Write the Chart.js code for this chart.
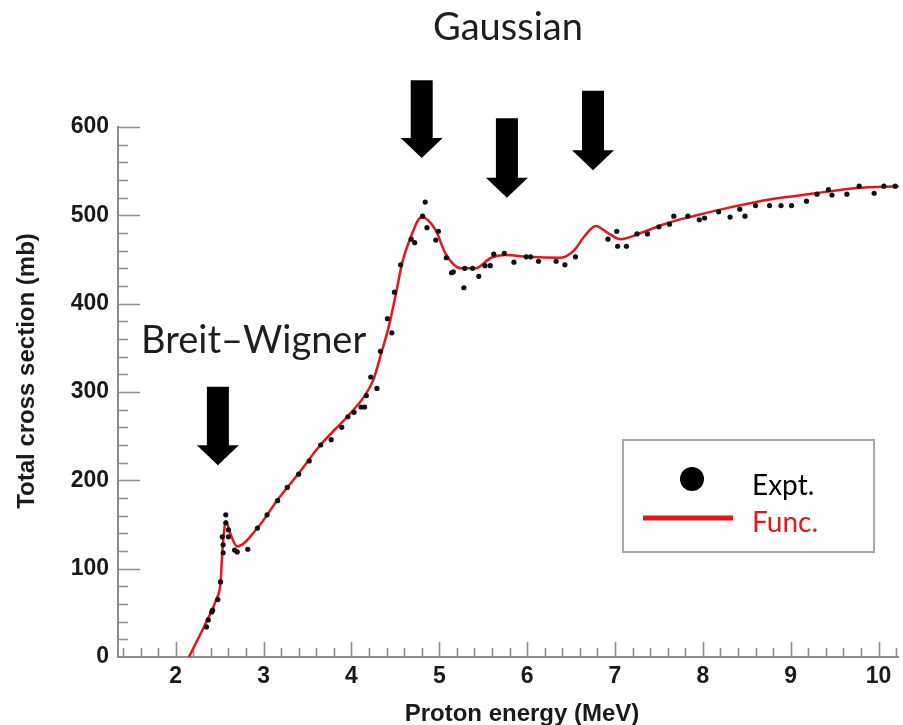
<!DOCTYPE html>
<html>
<head>
<meta charset="utf-8">
<script src="https://cdn.jsdelivr.net/npm/chart.js@4"></script>
<style>
  html, body { margin: 0; padding: 0; background: #fff; }
  #wrap { width: 903px; height: 725px; position: relative; }
</style>
</head>
<body>
<div id="wrap"><canvas id="chart"></canvas></div>
<script>
// measured cross section (proton energy in MeV, sigma in mb)
const exptEnergy = [
  2.35, 2.37, 2.41, 2.42, 2.48, 2.51, 2.53, 2.54, 2.54, 2.57, 2.57, 2.60, 2.60, 2.67, 2.70,
  2.82, 2.93, 3.04, 3.16, 3.27, 3.40, 3.52, 3.65, 3.77, 3.89, 3.96, 4.03, 4.11, 4.15, 4.17,
  4.22, 4.29, 4.33, 4.41, 4.46, 4.49, 4.56, 4.68, 4.72, 4.81, 4.84, 4.86, 4.96, 4.99, 5.08,
  5.14, 5.16, 5.28, 5.29, 5.38, 5.45, 5.52, 5.58, 5.62, 5.74, 5.85, 5.99, 6.04, 6.13, 6.33,
  6.43, 6.55, 6.92, 7.02, 7.03, 7.13, 7.25, 7.37, 7.50, 7.62, 7.67, 7.83, 7.96, 8.02, 8.18,
  8.31, 8.42, 8.48, 8.60, 8.76, 8.89, 9.01, 9.18, 9.30, 9.43, 9.47, 9.64, 9.78, 9.95, 10.06,
  10.19
];
const exptSigma = [
  34, 42, 51, 53, 65, 85, 136, 118, 127, 152, 161, 144, 136, 121, 119,
  122, 146, 161, 177, 192, 207, 222, 240, 246, 260, 272, 277, 283, 283, 296,
  317, 304, 346, 383, 367, 413, 444, 473, 469, 499, 515, 486, 472, 482, 452,
  435, 436, 418, 440, 440, 431, 443, 443, 456, 457, 447, 453, 453, 448, 448,
  444, 453, 473, 482, 465, 465, 479, 479, 487, 490, 499, 499, 495, 497, 504,
  498, 507, 499, 511, 511, 511, 511, 516, 524, 529, 523, 524, 533, 525, 533,
  533
];

// fitted function: Breit-Wigner + Gaussian terms
const funcEnergy = [
  2.15, 2.33, 2.46, 2.51, 2.53, 2.555, 2.57, 2.62, 2.70, 2.93, 3.16, 3.40, 3.63, 3.97, 4.16,
  4.25, 4.34, 4.43, 4.51, 4.58, 4.67, 4.80, 4.96, 5.07, 5.25, 5.41, 5.59, 5.75, 6.01, 6.38,
  6.54, 6.65, 6.78, 6.92, 7.06, 7.29, 7.59, 7.93, 8.31, 8.76, 9.29, 9.75, 10.23
];
const funcSigma = [
  0, 36, 65, 84, 118, 147, 154, 140, 125, 146, 178, 208, 238, 274, 297,
  314, 344, 376, 413, 447, 474, 498, 483, 457, 440, 440, 452, 455, 453, 452,
  461, 476, 488, 480, 473, 480, 491, 500, 509, 518, 525, 531, 533
];

const xTicks = [2, 3, 4, 5, 6, 7, 8, 9, 10];
const yTicks = [0, 100, 200, 300, 400, 500, 600];

// resonance markers: energy, arrow top and tip in mb
const resonanceArrows = [
  { e: 2.48, from: 306, to: 217 },
  { e: 4.80, from: 653, to: 565 },
  { e: 5.77, from: 610, to: 520 },
  { e: 6.75, from: 641, to: 551 }
];

const TITLE_FONT = 'bold 24px "Liberation Sans", Arial, sans-serif';
const NOTE_FONT = '"Lato", "Open Sans", sans-serif';

const toPoints = (xs, ys) => xs.map((x, i) => ({ x: x, y: ys[i] }));

const decor = {
  id: 'decor',
  beforeDraw(chart) {
    const c = chart.ctx;
    c.save();
    c.fillStyle = '#fff';
    c.fillRect(0, 0, chart.width, chart.height);
    c.restore();
  },
  beforeDatasetsDraw(chart) {
    const c = chart.ctx;
    const xs = chart.scales.x, ys = chart.scales.y;
    const a = chart.chartArea;
    c.save();
    c.strokeStyle = '#8c8c8c';
    c.lineWidth = 2;
    c.beginPath();
    c.moveTo(a.left, a.top - 1);
    c.lineTo(a.left, a.bottom);
    c.lineTo(a.right, a.bottom);
    c.stroke();
    // inward tick marks
    c.lineWidth = 1.6;
    c.beginPath();
    for (let v = 20; v <= 600; v += 20) {
      const py = Math.round(ys.getPixelForValue(v)) + 0.5;
      const len = v % 100 === 0 ? 22 : 10;
      c.moveTo(a.left, py);
      c.lineTo(a.left + len, py);
    }
    for (let k = 7; k <= 51; k++) {
      const e = k * 0.2;
      const px = Math.round(xs.getPixelForValue(e)) + 0.5;
      if (px <= a.left + 2 || px > a.right) continue;
      const len = k % 5 === 0 ? 15 : 9;
      c.moveTo(px, a.bottom);
      c.lineTo(px, a.bottom - len);
    }
    c.stroke();
    c.restore();
  },
  afterDraw(chart) {
    const c = chart.ctx;
    const xs = chart.scales.x, ys = chart.scales.y;
    c.save();

    // axis titles
    c.fillStyle = '#1a1a1a';
    c.font = TITLE_FONT;
    c.textAlign = 'center';
    c.textBaseline = 'alphabetic';
    c.fillText('Proton energy (MeV)', 522, 721);
    c.save();
    c.translate(34, 371);
    c.rotate(-Math.PI / 2);
    c.fillText('Total cross section (mb)', 0, 0);
    c.restore();

    // resonance arrows
    c.fillStyle = '#000';
    resonanceArrows.forEach(r => {
      const x = xs.getPixelForValue(r.e);
      const top = ys.getPixelForValue(r.from);
      const tip = ys.getPixelForValue(r.to);
      const headTop = tip - 20;
      c.beginPath();
      c.moveTo(x - 11, top);
      c.lineTo(x + 11, top);
      c.lineTo(x + 11, headTop);
      c.lineTo(x + 21, headTop);
      c.lineTo(x, tip);
      c.lineTo(x - 21, headTop);
      c.lineTo(x - 11, headTop);
      c.closePath();
      c.fill();
    });

    // annotations
    c.fillStyle = '#1e1e1e';
    c.font = '38px ' + NOTE_FONT;
    c.textAlign = 'center';
    c.fillText('Gaussian', 508, 40);
    c.textAlign = 'left';
    c.fillText('Breit\u2013Wigner', 141, 353);

    // legend box
    const ds = chart.data.datasets;
    c.strokeStyle = '#a8a8a8';
    c.lineWidth = 2;
    c.fillStyle = '#fff';
    c.fillRect(623, 440, 251, 112);
    c.strokeRect(623, 440, 251, 112);
    c.fillStyle = '#000';
    c.beginPath();
    c.arc(692, 479, 12, 0, Math.PI * 2);
    c.fill();
    c.strokeStyle = ds[1].borderColor;
    c.lineWidth = 5;
    c.beginPath();
    c.moveTo(643, 518);
    c.lineTo(733, 518);
    c.stroke();
    c.font = '28px ' + NOTE_FONT;
    c.textAlign = 'left';
    c.fillStyle = '#000';
    c.fillText(ds[0].label, 752, 495);
    c.fillStyle = ds[1].borderColor;
    c.fillText(ds[1].label, 752, 532);

    c.restore();
  }
};

new Chart(document.getElementById('chart'), {
  type: 'scatter',
  data: {
    datasets: [
      {
        label: 'Expt.',
        data: toPoints(exptEnergy, exptSigma),
        showLine: false,
        pointRadius: 2.6,
        pointBackgroundColor: '#111',
        pointBorderWidth: 0,
        order: 0
      },
      {
        label: 'Func.',
        data: toPoints(funcEnergy, funcSigma),
        showLine: true,
        borderColor: '#e8141c',
        borderWidth: 2.5,
        pointRadius: 0,
        cubicInterpolationMode: 'monotone',
        order: 1
      }
    ]
  },
  options: {
    responsive: true,
    maintainAspectRatio: false,
    animation: false,
    layout: { padding: { top: 127, left: 0, right: 0, bottom: 0 } },
    plugins: {
      legend: { display: false },
      tooltip: { enabled: false }
    },
    scales: {
      x: {
        type: 'linear',
        min: 1.343,
        max: 10.233,
        grid: { display: false, drawTicks: false },
        border: { display: false },
        afterBuildTicks: s => { s.ticks = xTicks.map(v => ({ value: v })); },
        afterFit: s => { s.height = 68; },
        ticks: {
          padding: 6,
          color: '#1a1a1a',
          font: { family: '"Liberation Sans", Arial, sans-serif', weight: 'bold', size: 23 },
          maxRotation: 0
        }
      },
      y: {
        min: 0,
        max: 600,
        grid: { display: false, drawTicks: false },
        border: { display: false },
        afterBuildTicks: s => { s.ticks = yTicks.map(v => ({ value: v })); },
        afterFit: s => { s.width = 118; },
        ticks: {
          padding: 9,
          color: '#1a1a1a',
          font: { family: '"Liberation Sans", Arial, sans-serif', weight: 'bold', size: 23 }
        }
      }
    }
  },
  plugins: [decor]
});
</script>
</body>
</html>
